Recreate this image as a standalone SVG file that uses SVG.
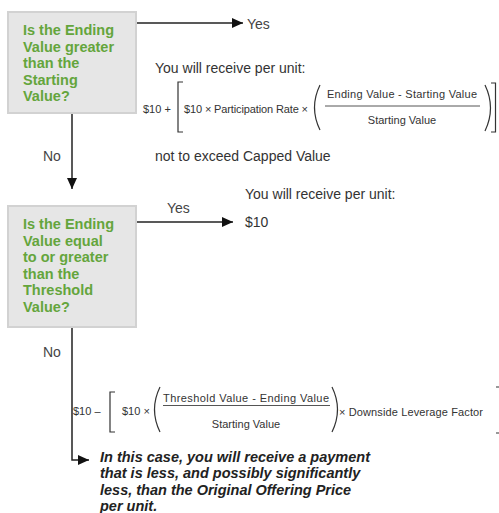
<svg xmlns="http://www.w3.org/2000/svg" width="499" height="513" viewBox="0 0 499 513">
<style>
.box{fill:#e6e6e6;stroke:#d2d2d2;stroke-width:2}
.q{font-family:"Liberation Sans",Arial,sans-serif;font-size:14.5px;font-weight:bold;fill:#64a53c}
.t{font-family:"Liberation Sans",Arial,sans-serif;font-size:14px;fill:#333}
.lbl{font-family:"Liberation Sans",Arial,sans-serif;font-size:14px;fill:#444}
.f{font-family:"Liberation Sans",Arial,sans-serif;font-size:11px;fill:#333}
.bi{font-family:"Liberation Sans",Arial,sans-serif;font-size:14.5px;font-weight:bold;font-style:italic;fill:#222}
.c{fill:none;stroke:#222;stroke-width:1.5}
.br{fill:none;stroke:#333;stroke-width:1.2}
.fl{stroke:#555;stroke-width:1}
</style>
<defs>
<marker id="ah" markerUnits="userSpaceOnUse" markerWidth="12" markerHeight="10" refX="11" refY="5" orient="auto">
<path d="M0,0 L11,5 L0,10 Z" fill="#111"/>
</marker>
</defs>
<rect width="499" height="513" fill="#fff"/>

<g id="connectors">
<path class="c" d="M136,23 H243" marker-end="url(#ah)"/>
<path class="c" d="M72,113 V189" marker-end="url(#ah)"/>
<path class="c" d="M136,222 H233" marker-end="url(#ah)"/>
<path class="c" d="M72,327 V460 H89" marker-end="url(#ah)"/>
<text class="lbl" x="247" y="29">Yes</text>
<text class="lbl" x="43" y="161">No</text>
<text class="lbl" x="167" y="213">Yes</text>
<text class="lbl" x="43" y="357">No</text>
</g>

<g id="q1">
<rect class="box" x="8" y="12" width="128" height="101"/>
<text class="q" x="23" y="35">Is the Ending</text>
<text class="q" x="23" y="51.5">Value greater</text>
<text class="q" x="23" y="68">than the</text>
<text class="q" x="23" y="84.5">Starting</text>
<text class="q" x="23" y="101">Value?</text>
</g>

<g id="q2">
<rect class="box" x="8" y="206" width="128" height="121"/>
<text class="q" x="23" y="229">Is the Ending</text>
<text class="q" x="23" y="245.5">Value equal</text>
<text class="q" x="23" y="262">to or greater</text>
<text class="q" x="23" y="278.5">than the</text>
<text class="q" x="23" y="295">Threshold</text>
<text class="q" x="23" y="311.5">Value?</text>
</g>

<g id="yes1">
<text class="t" x="155" y="73">You will receive per unit:</text>
<text class="f" x="143" y="113">$10 +</text>
<path class="br" d="M183,82 H178 V132 H183"/>
<text class="f" x="184" y="113" textLength="124" lengthAdjust="spacing">$10 × Participation Rate ×</text>
<path class="br" d="M320,85 Q309,107.5 320,130"/>
<text class="f" x="402" y="98" text-anchor="middle" textLength="150" lengthAdjust="spacing">Ending Value - Starting Value</text>
<line class="fl" x1="325" y1="106" x2="480" y2="106"/>
<text class="f" x="402" y="124" text-anchor="middle">Starting Value</text>
<path class="br" d="M485,85 Q496,108 485,131"/>
<path class="br" d="M491,83 H495.5 V132 H491"/>
<text class="t" x="155" y="161">not to exceed Capped Value</text>
</g>

<g id="yes2">
<text class="t" x="245" y="199">You will receive per unit:</text>
<text class="t" x="245" y="227">$10</text>
</g>

<g id="no2">
<text class="f" x="73" y="415">$10 –</text>
<path class="br" d="M115,392 H110 V432 H115"/>
<text class="f" x="122" y="415">$10 ×</text>
<path class="br" d="M160,387 Q149,409.5 160,432"/>
<text class="f" x="246" y="402" text-anchor="middle" textLength="166" lengthAdjust="spacing">Threshold Value - Ending Value</text>
<line class="fl" x1="163" y1="405.5" x2="330" y2="405.5"/>
<text class="f" x="246" y="428" text-anchor="middle">Starting Value</text>
<path class="br" d="M332,387 Q343,409.5 332,432"/>
<text class="f" x="339" y="416" textLength="144" lengthAdjust="spacing">× Downside Leverage Factor</text>
<path class="br" d="M496,387 H501 V433 H496"/>
<text class="bi" x="100" y="462">In this case, you will receive a payment</text>
<text class="bi" x="100" y="478">that is less, and possibly significantly</text>
<text class="bi" x="100" y="495">less, than the Original Offering Price</text>
<text class="bi" x="100" y="511">per unit.</text>
</g>
</svg>
